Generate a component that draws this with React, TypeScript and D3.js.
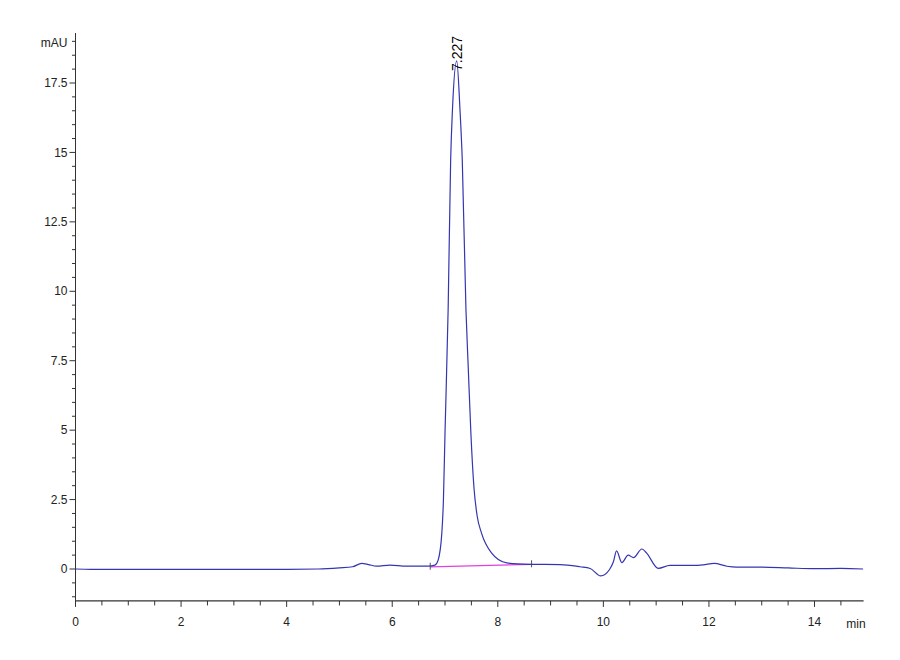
import { useEffect, useRef } from "react";
import * as d3 from "d3";

// retention time (min) and absorbance (mAU)
const times = [
  0.0, 0.3, 1.0, 2.0, 3.0, 4.0, 4.6, 5.0, 5.25, 5.42, 5.55, 5.7, 5.96, 6.27,
  6.68, 6.81, 6.87, 6.94, 6.97, 7.0, 7.06, 7.107, 7.141, 7.222, 7.284, 7.327,
  7.397, 7.44, 7.49, 7.55, 7.61, 7.69, 7.88, 8.17, 8.6, 9.18, 9.56, 9.75, 9.95,
  10.12, 10.19, 10.25, 10.35, 10.47, 10.57, 10.73, 10.82, 11.04, 11.26, 11.7,
  11.89, 12.1, 12.34, 12.52, 13.0, 13.5, 14.0, 14.5, 14.92,
];
const signal = [
  0.0, -0.01, -0.01, -0.01, -0.01, -0.01, 0.0, 0.04, 0.08, 0.2, 0.16, 0.1,
  0.14, 0.1, 0.1, 0.14, 0.32, 1.3, 2.48, 4.9, 9.4, 14.73, 16.53, 18.3, 16.53,
  14.73, 9.33, 7.27, 4.9, 2.9, 1.9, 1.3, 0.58, 0.22, 0.17, 0.16, 0.08, 0.02,
  -0.25, -0.01, 0.26, 0.65, 0.23, 0.5, 0.41, 0.72, 0.57, 0.02, 0.13, 0.13, 0.15,
  0.2, 0.1, 0.07, 0.07, 0.04, 0.01, 0.02, 0.0,
];

// integration baseline of the main peak
const baseTimes = [6.72, 8.64];
const baseValues = [0.08, 0.17];

const peakTime = 7.227;
const peakLabel = "7.227";

const xTickLabels = [0, 2, 4, 6, 8, 10, 12, 14];
const yTickLabels = [0, 2.5, 5, 7.5, 10, 12.5, 15, 17.5];

function App() {
  const svgRef = useRef(null);

  useEffect(() => {
    const width = 900;
    const height = 660;
    const font = "'Liberation Sans', Arial, sans-serif";
    const axisColor = "#333";

    const x = d3.scaleLinear().domain([0, 15]).range([75.5, 867.3]);
    const y = d3.scaleLinear().domain([0, 17.5]).range([569, 83]);
    const xEnd = 14.93;
    const yMin = -1.15;
    const yMax = 19.3;

    const svg = d3
      .select(svgRef.current)
      .attr("width", width)
      .attr("height", height);
    svg.selectAll("*").remove();

    svg.append("rect").attr("width", width).attr("height", height).attr("fill", "white");

    // y axis
    const gy = svg.append("g");
    gy.append("line")
      .attr("x1", x(0))
      .attr("x2", x(0))
      .attr("y1", y(yMax))
      .attr("y2", y(yMin))
      .attr("stroke", axisColor)
      .attr("stroke-width", 1);

    d3.range(-1, 19.01, 0.5).forEach((v) => {
      const major = yTickLabels.includes(v);
      gy.append("line")
        .attr("x1", x(0) - (major ? 6 : 3.5))
        .attr("x2", x(0))
        .attr("y1", y(v))
        .attr("y2", y(v))
        .attr("stroke", axisColor)
        .attr("stroke-width", 1);
    });

    gy.selectAll(".ylab")
      .data(yTickLabels)
      .enter()
      .append("text")
      .attr("x", x(0) - 8)
      .attr("y", (d) => y(d))
      .attr("dy", "0.35em")
      .attr("text-anchor", "end")
      .attr("font-family", font)
      .attr("font-size", 12)
      .attr("fill", "#222")
      .text((d) => d);

    gy.append("text")
      .attr("x", x(0) - 8)
      .attr("y", 43)
      .attr("dy", "0.35em")
      .attr("text-anchor", "end")
      .attr("font-family", font)
      .attr("font-size", 12)
      .attr("fill", "#222")
      .text("mAU");

    // x axis
    const gx = svg.append("g");
    const axisY = y(yMin);
    gx.append("line")
      .attr("x1", x(0))
      .attr("x2", x(xEnd))
      .attr("y1", axisY)
      .attr("y2", axisY)
      .attr("stroke", axisColor)
      .attr("stroke-width", 1.2);

    d3.range(0, 14.51, 0.5).forEach((t) => {
      const major = xTickLabels.includes(t);
      gx.append("line")
        .attr("x1", x(t))
        .attr("x2", x(t))
        .attr("y1", axisY)
        .attr("y2", axisY + (major ? 6 : 4.5))
        .attr("stroke", axisColor)
        .attr("stroke-width", 1);
    });

    gx.selectAll(".xlab")
      .data(xTickLabels)
      .enter()
      .append("text")
      .attr("x", (d) => x(d))
      .attr("y", axisY + 25)
      .attr("text-anchor", "middle")
      .attr("font-family", font)
      .attr("font-size", 12)
      .attr("fill", "#222")
      .text((d) => d);

    gx.append("text")
      .attr("x", 856)
      .attr("y", axisY + 27)
      .attr("text-anchor", "middle")
      .attr("font-family", font)
      .attr("font-size", 12)
      .attr("fill", "#222")
      .text("min");

    // integration baseline
    svg
      .append("line")
      .attr("x1", x(baseTimes[0]))
      .attr("x2", x(baseTimes[1]))
      .attr("y1", y(baseValues[0]))
      .attr("y2", y(baseValues[1]))
      .attr("stroke", "#e040e0")
      .attr("stroke-width", 1.2);

    // peak start / end marks
    baseTimes.forEach((t, i) => {
      svg
        .append("line")
        .attr("x1", x(t))
        .attr("x2", x(t))
        .attr("y1", y(baseValues[i]) - 4)
        .attr("y2", y(baseValues[i]) + 3)
        .attr("stroke", "#555")
        .attr("stroke-width", 1);
    });

    // trace
    const pts = times.map((t, i) => [t, signal[i]]);
    const line = d3
      .line()
      .x((d) => x(d[0]))
      .y((d) => y(d[1]))
      .curve(d3.curveMonotoneX);

    svg
      .append("path")
      .datum(pts)
      .attr("d", line)
      .attr("fill", "none")
      .attr("stroke", "#3535b0")
      .attr("stroke-width", 1.2);

    // peak label
    svg
      .append("text")
      .attr("transform", `translate(${x(peakTime) + 5},71) rotate(-90)`)
      .attr("text-anchor", "start")
      .attr("font-family", font)
      .attr("font-size", 14)
      .attr("fill", "#000")
      .text(peakLabel);
  }, []);

  return (
    <div style={{ position: "fixed", left: 0, top: 0 }}>
      <svg ref={svgRef} style={{ display: "block" }}></svg>
    </div>
  );
}

export default App;
